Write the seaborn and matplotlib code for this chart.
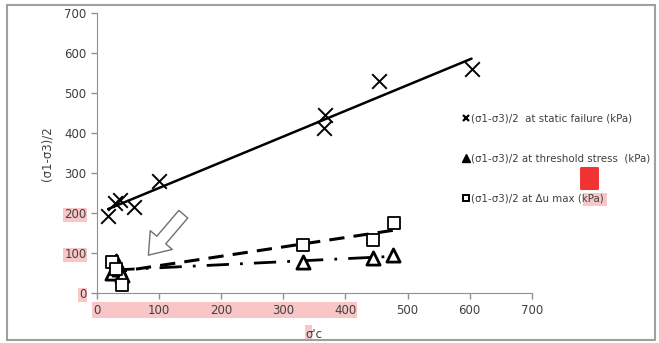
import matplotlib
matplotlib.use("Agg")
import matplotlib.pyplot as plt
import pandas as pd
import seaborn as sns
from matplotlib.patches import Rectangle, FancyBboxPatch, FancyArrowPatch

# Data
static_x = [18, 29, 37, 59, 100, 365, 367, 454, 603]
static_y = [193, 225, 233, 216, 280, 413, 445, 531, 562]

thresh_x = [25, 30, 35, 40, 332, 444, 477]
thresh_y = [50, 80, 60, 45, 79, 88, 96]

du_x = [24, 30, 40, 332, 444, 478]
du_y = [79, 60, 21, 121, 133, 176]

labels = ["(σ1-σ3)/2  at static failure (kPa)",
          "(σ1-σ3)/2 at threshold stress  (kPa)",
          "(σ1-σ3)/2 at Δu max (kPa)"]

df_static = pd.DataFrame({"x": static_x, "y": static_y})
df_thresh = pd.DataFrame({"x": thresh_x, "y": thresh_y})
df_du = pd.DataFrame({"x": du_x, "y": du_y})

sns.set_style("ticks")
plt.rcParams["font.family"] = ["DejaVu Sans"]

fig = plt.figure(figsize=(6.59, 3.43), dpi=100)
ax = fig.add_axes([0.147, 0.145, 0.660, 0.816])

txt = "#404040"
pink = "#f8c6c6"

# trend lines
sns.regplot(data=df_static, x="x", y="y", ci=None, scatter=False, ax=ax,
            line_kws=dict(color="black", lw=1.8, ls="-"))
sns.regplot(data=df_du, x="x", y="y", ci=None, scatter=False, ax=ax,
            line_kws=dict(color="black", lw=2.2, ls=(0, (5, 3))))
sns.regplot(data=df_thresh, x="x", y="y", ci=None, scatter=False, ax=ax,
            line_kws=dict(color="black", lw=2.0, ls=(0, (8, 4, 1, 4))))

# markers
sns.scatterplot(data=df_static, x="x", y="y", marker="x", s=110, color="black",
                linewidth=1.4, ax=ax, zorder=5)
sns.scatterplot(data=df_thresh, x="x", y="y", marker="^", s=90, facecolor="white",
                edgecolor="black", linewidth=2.0, ax=ax, zorder=5)
sns.scatterplot(data=df_du, x="x", y="y", marker="s", s=80, facecolor="white",
                edgecolor="black", linewidth=1.3, ax=ax, zorder=5)

# hollow arrow
arrow = FancyArrowPatch((142, 203), (80, 90),
                        arrowstyle="simple,head_width=1.6,head_length=1.1,tail_width=0.65",
                        mutation_scale=13, facecolor="white", edgecolor="#707070", lw=1.0,
                        zorder=4)
ax.add_patch(arrow)

ax.set_xlim(0, 700)
ax.set_ylim(0, 700)
ax.set_xticks(range(0, 701, 100))
ax.set_yticks(range(0, 701, 100))
ax.set_xlabel("σ'c", fontsize=8.5, color=txt, labelpad=8)
ax.set_ylabel("(σ1-σ3)/2", fontsize=8.5, color=txt, labelpad=8)
ax.tick_params(labelsize=8.5, colors=txt, length=4, width=1, color="#909090")
for s in ["left", "bottom"]:
    ax.spines[s].set_color("#909090")
sns.despine(ax=ax)

# pink highlights on some y tick labels
for lab in ax.get_yticklabels():
    if lab.get_text() in ("0", "100", "200"):
        lab.set_bbox(dict(facecolor=pink, edgecolor="none", pad=0.5))

# pink band behind x tick labels
fig.patches.append(Rectangle((92 / 659, 1 - 318 / 343), (357 - 92) / 659, 16 / 343,
                             transform=fig.transFigure, facecolor=pink,
                             edgecolor="none", zorder=-1))
fig.patches.append(Rectangle((305 / 659, 1 - 340 / 343), 7 / 659, 15 / 343,
                             transform=fig.transFigure, facecolor=pink,
                             edgecolor="none", zorder=-1))

# legend
h1 = plt.Line2D([], [], marker="x", color="black", ls="none", markersize=5, mew=1.6)
h2 = plt.Line2D([], [], marker="^", color="black", ls="none", markersize=6)
h3 = plt.Line2D([], [], marker="s", mfc="white", mec="black", ls="none", markersize=5, mew=1.4)
leg = fig.legend([h1, h2, h3], labels, loc="upper left", bbox_to_anchor=(0.693, 0.68),
                 frameon=False, fontsize=7.4, labelspacing=2.9, handletextpad=0.0,
                 handlelength=1.0, borderaxespad=0)
for t in leg.get_texts():
    t.set_color(txt)

fig.patches.append(Rectangle((583 / 659, 1 - 206 / 343), 24 / 659, 13 / 343,
                             transform=fig.transFigure, facecolor=pink,
                             edgecolor="none", zorder=-1))
fig.patches.append(FancyBboxPatch((582 / 659, 1 - 189 / 343), 15 / 659, 21 / 343,
                                  boxstyle="round,pad=0.003", transform=fig.transFigure,
                                  facecolor="#f23333", edgecolor="none", zorder=10))

# outer frame
fig.patches.append(Rectangle((7 / 659, 3 / 343), 648 / 659, 335 / 343,
                             transform=fig.transFigure, fill=False,
                             edgecolor="#a0a0a0", lw=1.5))

fig.savefig("out.png", dpi=100)
